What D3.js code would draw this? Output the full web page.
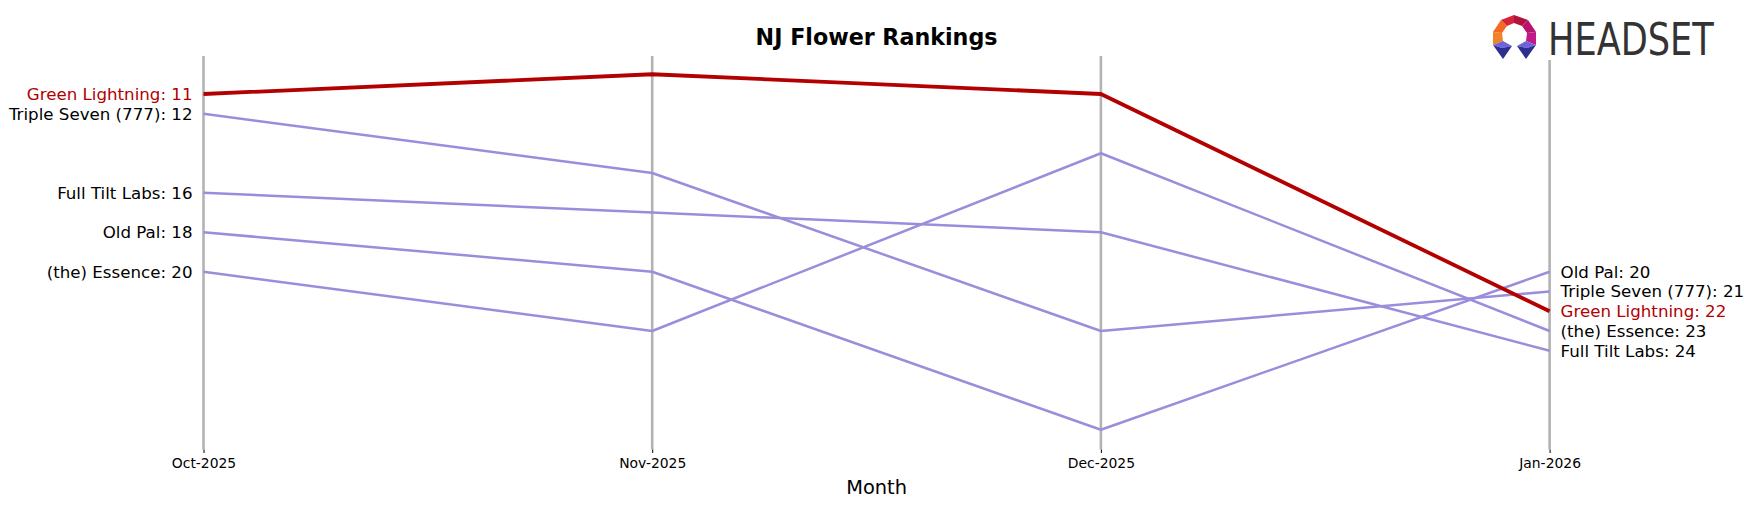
<!DOCTYPE html>
<html>
<head>
<meta charset="utf-8">
<script src="https://cdn.jsdelivr.net/npm/d3@7"></script>
<style>
  html, body { margin: 0; padding: 0; background: #fff; }
  svg { display: block; font-family: "DejaVu Sans", sans-serif; }
</style>
</head>
<body>
<svg id="chart" width="1753" height="507"></svg>
<script>
// ---- Data ----
const months = ["Oct-2025", "Nov-2025", "Dec-2025", "Jan-2026"];
const brands = ["Green Lightning", "Triple Seven (777)", "Full Tilt Labs", "Old Pal", "(the) Essence"];
const greenLightning = [11, 10, 11, 22];
const tripleSeven = [12, 15, 23, 21];
const fullTiltLabs = [16, 17, 18, 24];
const oldPal = [18, 20, 28, 20];
const essence = [20, 23, 14, 23];
const highlight = "Green Lightning";
const titleText = "NJ Flower Rankings";
const xLabel = "Month";

const seriesValues = [greenLightning, tripleSeven, fullTiltLabs, oldPal, essence];
const series = brands.map((b, i) => ({ name: b, values: seriesValues[i] }));

// ---- Layout ----
const svg = d3.select("#chart");
const x = d3.scalePoint().domain(months).range([203.5, 1549.6]);
const y = d3.scaleLinear().domain([9, 29]).range([54.5, 449.5]);

const red = "#b30000", purple = "#9b8ddc", grey = "#b3b3b3";

// vertical month lines
svg.append("g").selectAll("line").data(months).join("line")
  .attr("x1", d => x(d)).attr("x2", d => x(d))
  .attr("y1", y(9.08)).attr("y2", y(29))
  .attr("stroke", grey).attr("stroke-width", 2.6);

// x axis (ticks + labels)
const xAxis = d3.axisBottom(x).tickSize(3.5).tickPadding(5);
const gx = svg.append("g").attr("transform", `translate(0,${y(29)})`).call(xAxis);
gx.select(".domain").remove();
gx.selectAll(".tick line").attr("stroke", "#000").attr("stroke-width", 1);
gx.selectAll(".tick text").attr("font-family", "DejaVu Sans").attr("font-size", 13.9).attr("fill", "#000");

// x label
svg.append("text").attr("x", (x(months[0]) + x(months[3])) / 2).attr("y", 494)
  .attr("text-anchor", "middle").attr("font-size", 19.4).attr("fill", "#000").text(xLabel);

// title
svg.append("text").attr("x", (x(months[0]) + x(months[3])) / 2).attr("y", 44.5)
  .attr("text-anchor", "middle").attr("font-size", 22.2).attr("font-weight", "bold")
  .attr("fill", "#000").text(titleText);

// lines
const line = d3.line().x((d, i) => x(months[i])).y(d => y(d));
const ordered = series.filter(s => s.name !== highlight).concat(series.filter(s => s.name === highlight));
svg.append("g").selectAll("path").data(ordered).join("path")
  .attr("d", d => line(d.values))
  .attr("fill", "none")
  .attr("stroke", d => d.name === highlight ? red : purple)
  .attr("stroke-width", d => d.name === highlight ? 3.8 : 2.5)
  .attr("stroke-linejoin", "round");

// left labels
svg.append("g").selectAll("text").data(series).join("text")
  .attr("x", x(months[0]) - 11)
  .attr("y", d => y(d.values[0]))
  .attr("dy", "0.35em")
  .attr("text-anchor", "end")
  .attr("font-size", 16.67)
  .attr("fill", d => d.name === highlight ? red : "#000")
  .text(d => `${d.name}: ${d.values[0]}`);

// right labels
svg.append("g").selectAll("text").data(series).join("text")
  .attr("x", x(months[3]) + 11)
  .attr("y", d => y(d.values[3]))
  .attr("dy", "0.35em")
  .attr("text-anchor", "start")
  .attr("font-size", 16.67)
  .attr("fill", d => d.name === highlight ? red : "#000")
  .text(d => `${d.name}: ${d.values[3]}`);

// ---- HEADSET logo (with white backing like an overlaid image) ----
const logo = svg.append("g");
logo.append("rect").attr("x", 1485).attr("y", 8).attr("width", 240).attr("height", 52).attr("fill", "#fff");
const O = [[1493,45],[1493,32],[1501,20],[1514,15],[1528,20],[1536,32],[1536,45]];
const I = [[1503,41],[1502,33],[1507,26],[1514,23],[1522,26],[1527,33],[1526,41]];
const segCols = ["#f08424", "#f26a22", "#d9213a", "#b3123e", "#b8136f", "#c21a86"];
for (let i = 0; i < 6; i++) {
  logo.append("polygon")
    .attr("points", [O[i], O[i+1], I[i+1], I[i]].map(p => p.join(",")).join(" "))
    .attr("fill", segCols[i]);
}
logo.append("polygon").attr("points", "1493,45 1503,41 1512,46 1502,48").attr("fill", "#6e63dc");
logo.append("polygon").attr("points", "1493,45 1502,48 1512,46 1503,59").attr("fill", "#2d2f8e");
logo.append("polygon").attr("points", "1536,45 1526,41 1517,46 1527,48").attr("fill", "#6e63dc");
logo.append("polygon").attr("points", "1536,45 1527,48 1517,46 1526,59").attr("fill", "#2d2f8e");
logo.append("text").attr("transform", "translate(1548,55) scale(0.79,1)")
  .attr("font-family", "DejaVu Sans").attr("font-size", 44.5)
  .attr("fill", "#333333")
  .text("HEADSET");
</script>
</body>
</html>
